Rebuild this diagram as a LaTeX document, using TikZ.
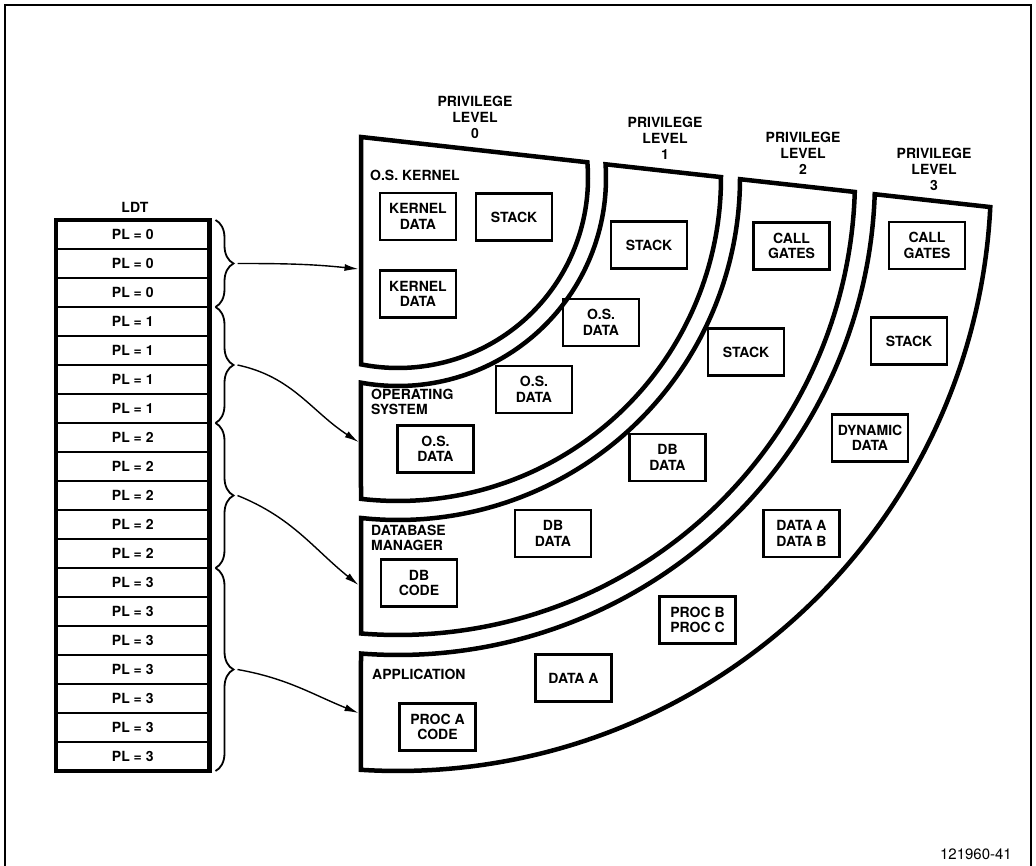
\documentclass[tikz,border=0pt]{standalone}
\usepackage{fontspec}
\setmainfont{TeX Gyre Heros}
\usetikzlibrary{arrows.meta,decorations.pathreplacing,calc}
\begin{document}
\begin{tikzpicture}[x=1pt,y=1pt,
  wedge/.style={line width=4.5pt, line join=miter},
  membox/.style={draw, line width=2.3pt, minimum width=76pt, minimum height=47pt, inner sep=1pt, align=center, font=\bfseries\fontsize{14}{15.5}\selectfont},
  wlabel/.style={anchor=west, inner sep=0pt, align=left, font=\bfseries\fontsize{14}{15.5}\selectfont},
  plabel/.style={inner sep=0pt, align=center, font=\bfseries\fontsize{14}{16}\selectfont},
  ldtrow/.style={draw, line width=2pt, minimum width=153.5pt, minimum height=29pt, inner sep=0pt, outer sep=0pt, font=\bfseries\fontsize{14}{16}\selectfont},
  bracestyle/.style={line width=1.8pt, decorate, decoration={brace, amplitude=18pt}},
  arr/.style={line width=1.4pt, -{Latex[length=14pt,width=7pt]}}
]
\useasboundingbox (0,0) rectangle (1036,-866);
% frame
\draw[line width=2.5pt] (5,-866) -- (5,-5) -- (1031,-5) -- (1031,-866);

% ring centre
\coordinate (C) at (398,-178);
% level 0
\draw[wedge] (361,-137) -- ([shift={(C)}]4.75:190pt) arc[start angle=4.75, end angle=-101.23, radius=190pt] -- cycle;
% level 1
\draw[wedge] ([shift={(C)}]3.78:208pt) -- ([shift={(C)}]0.16:323pt) arc[start angle=0.16, end angle=-96.58, radius=323pt] -- ([shift={(C)}]-100.25:208pt) arc[start angle=-100.25, end angle=3.78, radius=208pt] -- cycle;
% level 2
\draw[wedge] ([shift={(C)}]-0.20:342pt) -- ([shift={(C)}]-1.75:457pt) arc[start angle=-1.75, end angle=-94.64, radius=457pt] -- ([shift={(C)}]-96.21:342pt) arc[start angle=-96.21, end angle=-0.20, radius=342pt] -- cycle;
% level 3
\draw[wedge] ([shift={(C)}]-1.95:477pt) -- ([shift={(C)}]-2.81:593pt) arc[start angle=-2.81, end angle=-93.58, radius=593pt] -- ([shift={(C)}]-94.45:477pt) arc[start angle=-94.45, end angle=-1.95, radius=477pt] -- cycle;

% privilege level labels
\node[plabel] (pl0) at (475,-117) {PRIVILEGE\\LEVEL\\0};
\node[plabel] (pl1) at (665,-138) {PRIVILEGE\\LEVEL\\1};
\node[plabel] (pl2) at (803,-153.5) {PRIVILEGE\\LEVEL\\2};
\node[plabel] (pl3) at (934,-169.5) {PRIVILEGE\\LEVEL\\3};

% wedge titles
\node[wlabel] (t0) at (370,-175) {O.S. KERNEL};
\node[wlabel] (tt1) at (371,-402) {OPERATING\\SYSTEM};
\node[wlabel] (tt2) at (371,-538) {DATABASE\\MANAGER};
\node[wlabel] (tt3) at (372,-674) {APPLICATION};

% level 0 boxes
\node[membox] (kd1) at (418,-216.5) {KERNEL\\DATA};
\node[membox] (st0) at (514,-217) {STACK};
\node[membox] (kd2) at (418,-294) {KERNEL\\DATA};
% level 1 boxes
\node[membox] (st1) at (649,-245) {STACK};
\node[membox] (os1) at (601,-322.5) {O.S.\\DATA};
\node[membox] (os2) at (534,-389.5) {O.S.\\DATA};
\node[membox] (os3) at (435.5,-449) {O.S.\\DATA};
% level 2 boxes
\node[membox] (cg2) at (791.5,-246) {CALL\\GATES};
\node[membox] (st2) at (746,-352) {STACK};
\node[membox] (db1) at (667.5,-457.5) {DB\\DATA};
\node[membox] (db2) at (553,-533.5) {DB\\DATA};
\node[membox] (dbc) at (419,-583) {DB\\CODE};
% level 3 boxes
\node[membox] (cg3) at (927,-245.5) {CALL\\GATES};
\node[membox] (st3) at (909,-341) {STACK};
\node[membox] (dyn) at (870,-438) {DYNAMIC\\DATA};
\node[membox] (dab) at (801.5,-533.5) {DATA A\\DATA B};
\node[membox] (pbc) at (697.5,-620) {PROC B\\PROC C};
\node[membox] (da) at (573.5,-678) {DATA A};
\node[membox] (pac) at (437.5,-727) {PROC A\\CODE};

% LDT table
\node[font=\bfseries\fontsize{14}{16}\selectfont, inner sep=0pt] (ldt) at (135,-207) {LDT};
\foreach \lv [count=\i] in {0,0,0,1,1,1,1,2,2,2,2,2,3,3,3,3,3,3,3}
  \node[ldtrow] (r\i) at (132.75,{-205.5-29*\i}) {PL = \lv};
\draw[line width=4.3pt] (r1.north west) rectangle (r19.south east);

% braces
\draw[bracestyle] ([xshift=6pt]r1.north east) -- ([xshift=6pt]r3.south east);
\draw[bracestyle] ([xshift=6pt]r4.north east) -- ([xshift=6pt]r7.south east);
\draw[bracestyle] ([xshift=6pt]r8.north east) -- ([xshift=6pt]r12.south east);
\draw[bracestyle] ([xshift=6pt]r13.north east) -- ([xshift=6pt]r19.south east);

\coordinate (b1) at ($(r2.east)+(28,0)$);
\coordinate (b2) at ($(r5.south east)+(28,0)$);
\coordinate (b3) at ($(r10.east)+(28,0)$);
\coordinate (b4) at ($(r16.east)+(28,0)$);

\coordinate (e0) at (358.5,-269);
\coordinate (e1) at (358.5,-442);
\coordinate (e2) at (358.5,-585);
\coordinate (e3) at (358.5,-713);

\draw[arr] (b1) to[out=0,in=174] (e0);
\draw[arr] (b2) to[out=-12,in=147] (e1);
\draw[arr] (b3) to[out=-22,in=141] (e2);
\draw[arr] (b4) to[out=-10,in=158] (e3);

% figure number
\node[anchor=east, inner sep=0pt, font=\fontsize{15}{17}\selectfont] (fig) at (1012,-854) {121960-41};
\end{tikzpicture}
\end{document}
